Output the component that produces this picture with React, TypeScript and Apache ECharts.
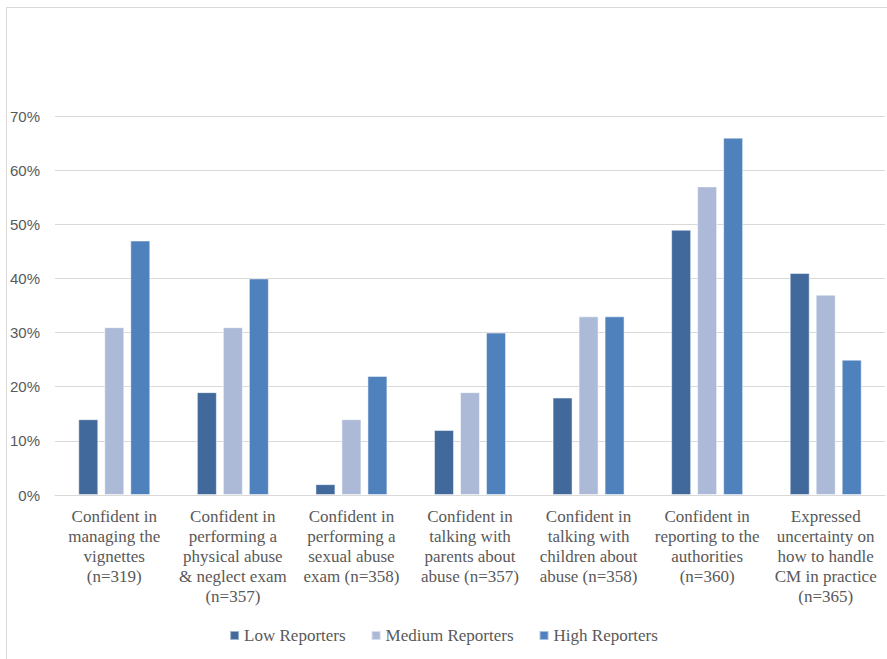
import React, { useEffect, useRef } from "react";
import * as echarts from "echarts";

const categories = [
  "Confident in\nmanaging the\nvignettes\n(n=319)",
  "Confident in\nperforming a\nphysical abuse\n& neglect exam\n(n=357)",
  "Confident in\nperforming a\nsexual abuse\nexam (n=358)",
  "Confident in\ntalking with\nparents about\nabuse (n=357)",
  "Confident in\ntalking with\nchildren about\nabuse (n=358)",
  "Confident in\nreporting to the\nauthorities\n(n=360)",
  "Expressed\nuncertainty on\nhow to handle\nCM in practice\n(n=365)",
];
const seriesNames = ["Low Reporters", "Medium Reporters", "High Reporters"];
const lowValues = [14, 19, 2, 12, 18, 49, 41];
const mediumValues = [31, 31, 14, 19, 33, 57, 37];
const highValues = [47, 40, 22, 30, 33, 66, 25];
const seriesColors = ["#41699B", "#ACBAD8", "#4F81BD"];

const SERIF = "'Liberation Serif', 'DejaVu Serif', serif";

export default function App() {
  const ref = useRef<HTMLDivElement>(null);
  useEffect(() => {
    if (!ref.current) return;
    const chart = echarts.init(ref.current, undefined, { renderer: "svg" });
    const values = [lowValues, mediumValues, highValues];
    chart.setOption({
      animation: false,
      backgroundColor: "#ffffff",
      graphic: [
        { type: "line", shape: { x1: 6.5, y1: 7.5, x2: 887, y2: 7.5 }, style: { stroke: "#d9d9d9", lineWidth: 1 } },
        { type: "line", shape: { x1: 6.5, y1: 7.5, x2: 6.5, y2: 659 }, style: { stroke: "#d9d9d9", lineWidth: 1 } },
      ],
      grid: { left: 55, right: 2, top: 116, bottom: 164, containLabel: false },
      legend: {
        data: seriesNames,
        bottom: 10,
        left: "center",
        itemWidth: 9,
        itemHeight: 9,
        itemGap: 25,
        icon: "rect",
        textStyle: { fontFamily: SERIF, fontSize: 17, color: "#595959" },
      },
      xAxis: {
        type: "category",
        data: categories,
        axisLine: { lineStyle: { color: "#d9d9d9", width: 1 } },
        axisTick: { show: false },
        axisLabel: {
          interval: 0,
          margin: 11,
          fontFamily: SERIF,
          fontSize: 17,
          lineHeight: 20,
          color: "#595959",
          align: "center",
        },
      },
      yAxis: {
        type: "value",
        min: 0,
        max: 70,
        interval: 10,
        axisLine: { show: false },
        axisTick: { show: false },
        splitLine: { lineStyle: { color: "#d9d9d9", width: 1 } },
        axisLabel: {
          formatter: "{value}%",
          margin: 15,
          fontFamily: "'Liberation Sans', sans-serif",
          fontSize: 15,
          color: "#595959",
        },
      },
      series: seriesNames.map((name, i) => ({
        name,
        type: "bar",
        data: values[i],
        barWidth: 20,
        barGap: "30%",
        itemStyle: { color: seriesColors[i], borderColor: "rgba(255,255,255,0.5)", borderWidth: 1 },
      })),
    });
    return () => chart.dispose();
  }, []);
  return (
    <div style={{ position: "fixed", left: 0, top: 0, width: 887, height: 659, background: "#fff" }}>
      <div ref={ref} style={{ width: 887, height: 659 }} />
    </div>
  );
}
